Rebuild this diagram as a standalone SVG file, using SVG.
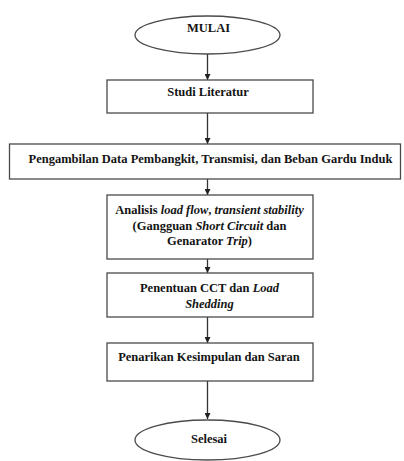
<svg xmlns="http://www.w3.org/2000/svg" width="404" height="461" viewBox="0 0 404 461">
<style>
.n{fill:#fff;stroke:#4a4a4a;stroke-width:1.3}
.t{font-family:'Liberation Serif','Times New Roman','DejaVu Serif',serif;font-weight:700;font-size:12.5px;fill:#141414;text-anchor:middle}
.i{font-style:italic}
.c{stroke:#333;stroke-width:1.3;fill:none}
</style>
<defs>
<marker id="ah" markerWidth="6" markerHeight="6" refX="6" refY="3" orient="auto" markerUnits="userSpaceOnUse">
<path d="M0,0 L6,3 L0,6 Z" fill="#222"/>
</marker>
</defs>
<rect width="404" height="461" fill="#fff"/>
<g id="connectors">
<line class="c" x1="207.5" y1="54" x2="207.5" y2="80" marker-end="url(#ah)"/>
<line class="c" x1="207.5" y1="113" x2="207.5" y2="144" marker-end="url(#ah)"/>
<line class="c" x1="207.5" y1="179" x2="207.5" y2="195" marker-end="url(#ah)"/>
<line class="c" x1="207.5" y1="259" x2="207.5" y2="273" marker-end="url(#ah)"/>
<line class="c" x1="207.5" y1="313" x2="207.5" y2="343" marker-end="url(#ah)"/>
<line class="c" x1="207.5" y1="381" x2="207.5" y2="419" marker-end="url(#ah)"/>
</g>
<g id="mulai">
<ellipse class="n" cx="207.5" cy="35" rx="72.5" ry="19"/>
<text class="t" x="208.5" y="32">MULAI</text>
</g>
<g id="studi">
<rect class="n" x="107" y="80" width="206" height="33"/>
<text class="t" x="208" y="96">Studi Literatur</text>
</g>
<g id="pengambilan">
<rect class="n" x="9.5" y="144" width="391" height="35"/>
<text class="t" x="210.5" y="162.5">Pengambilan Data Pembangkit, Transmisi, dan Beban Gardu Induk</text>
</g>
<g id="analisis">
<rect class="n" x="107" y="195" width="206" height="64"/>
<text class="t" x="209.5" y="213.5">Analisis <tspan class="i">load flow</tspan>, <tspan class="i">transient stability</tspan></text>
<text class="t" x="209.5" y="229.5">(Gangguan <tspan class="i">Short Circuit</tspan> dan</text>
<text class="t" x="209.5" y="245">Genarator <tspan class="i">Trip</tspan>)</text>
</g>
<g id="penentuan">
<rect class="n" x="107" y="273" width="206" height="44"/>
<text class="t" x="209.5" y="291.5">Penentuan CCT dan <tspan class="i">Load</tspan></text>
<text class="t" x="209.5" y="307.5"><tspan class="i">Shedding</tspan></text>
</g>
<g id="penarikan">
<rect class="n" x="107" y="343" width="206" height="38"/>
<text class="t" x="209" y="360.5">Penarikan Kesimpulan dan Saran</text>
</g>
<g id="selesai">
<ellipse class="n" cx="207.5" cy="440" rx="72.5" ry="20"/>
<text class="t" x="209" y="442.5">Selesai</text>
</g>
</svg>
